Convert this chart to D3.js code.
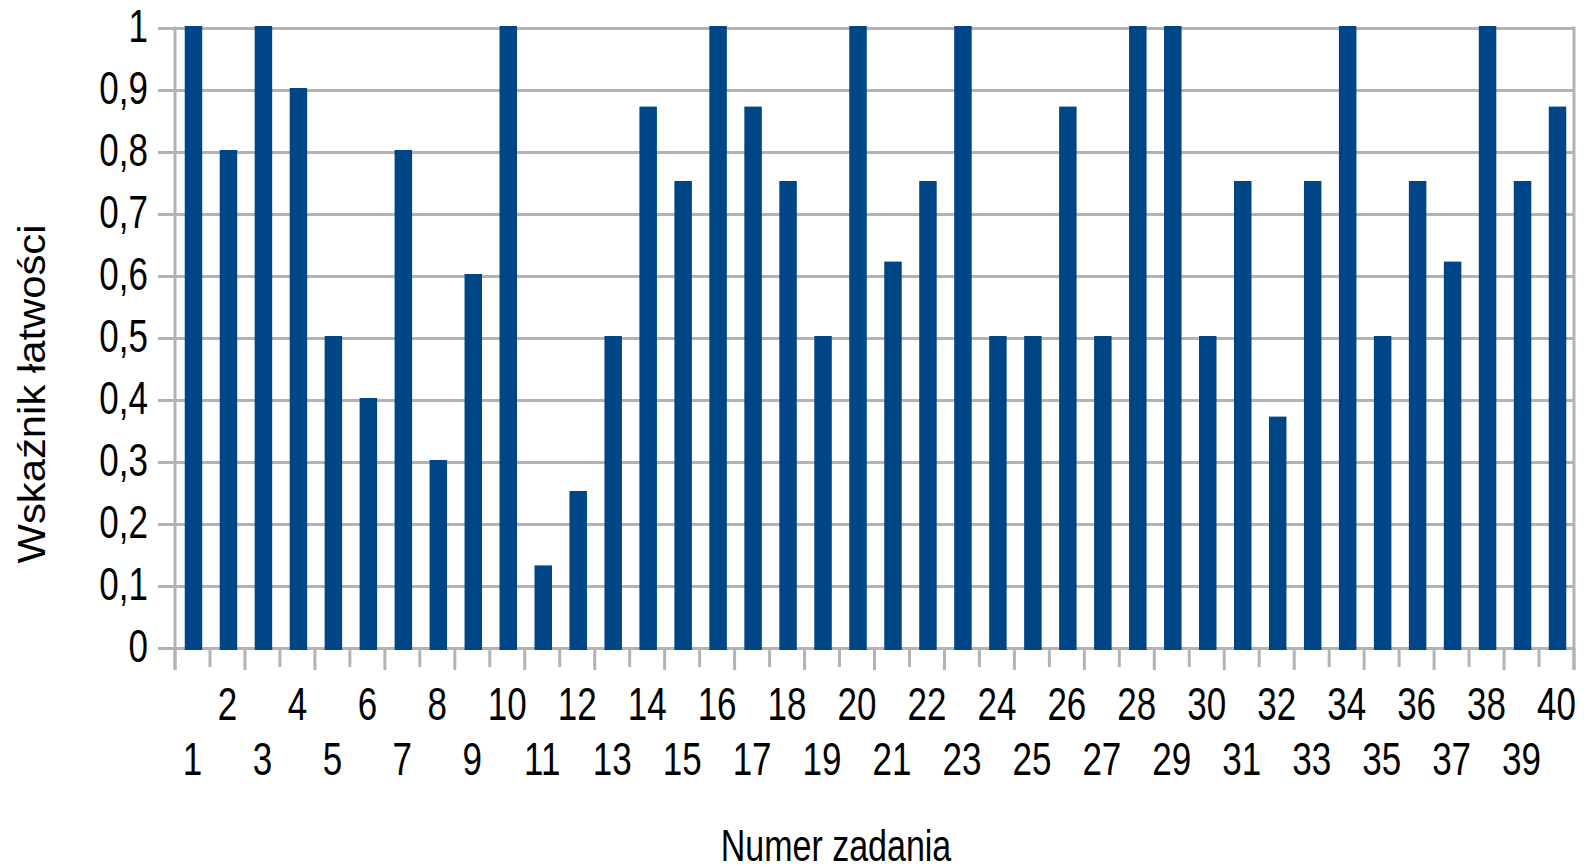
<!DOCTYPE html>
<html>
<head>
<meta charset="utf-8">
<style>
  body { margin: 0; background: #fff; }
  #chart text { font-family: 'Liberation Sans', Arial, sans-serif; fill: #000; }
</style>
</head>
<body>
<div id="chart"></div>
<script src="https://d3js.org/d3.v7.min.js"></script>
<script>
  // numer zadania 1..40
  var tasks = d3.range(1, 41);
  // wskaznik latwosci
  var values = [1, 0.8, 1, 0.9, 0.5, 0.4, 0.8, 0.3, 0.6, 1,
    0.13, 0.25, 0.5, 0.87, 0.75, 1, 0.87, 0.75, 0.5, 1,
    0.62, 0.75, 1, 0.5, 0.5, 0.87, 0.5, 1, 1, 0.5,
    0.75, 0.37, 0.75, 1, 0.5, 0.75, 0.62, 1, 0.75, 0.87];
  var yTicks = [0, 0.1, 0.2, 0.3, 0.4, 0.5, 0.6, 0.7, 0.8, 0.9, 1];
  var xTitle = "Numer zadania";
  var yTitle = "Wskaźnik łatwości";

  var width = 1589, height = 868;
  var plotL = 175, plotR = 1574, plotT = 28, plotB = 648;
  var grey = "#b3b3b3";

  var svg = d3.select("#chart").append("svg")
    .attr("width", width).attr("height", height);

  var x = d3.scaleBand().domain(tasks).range([plotL, plotR])
    .paddingInner(0.5).paddingOuter(0.25);
  var edge = d3.scaleLinear().domain([0, tasks.length]).range([plotL, plotR]);
  var y = d3.scaleLinear().domain([0, 1]).range([plotB, plotT]);

  var pl = d3.formatLocale({decimal: ",", thousands: " ", grouping: [3], currency: ["", " zł"]});
  var fmt = pl.format(".1~f");

  // gridlines + y labels
  var yAxis = svg.append("g")
    .attr("transform", "translate(" + plotL + ",0)")
    .call(d3.axisLeft(y).tickValues(yTicks).tickSize(17).tickFormat(fmt));
  yAxis.select(".domain").remove();
  yAxis.selectAll(".tick line").attr("stroke", grey).attr("stroke-width", 3)
    .attr("x1", 0).attr("x2", -17);
  yAxis.selectAll(".tick").append("line")
    .attr("x1", 0).attr("x2", plotR - plotL)
    .attr("stroke", grey).attr("stroke-width", 3);
  yAxis.selectAll(".tick text")
    .attr("x", null).attr("dy", null)
    .attr("font-size", 35)
    .attr("fill", "#000")
    .attr("transform", "translate(-27,-2) scale(1,1.3) translate(0,12)");

  // axis frame
  svg.append("line").attr("x1", plotL).attr("x2", plotL).attr("y1", plotT - 1.5).attr("y2", 670)
    .attr("stroke", grey).attr("stroke-width", 3);
  svg.append("line").attr("x1", plotR).attr("x2", plotR).attr("y1", plotT - 1.5).attr("y2", 670)
    .attr("stroke", grey).attr("stroke-width", 3);

  // ticks on band edges
  svg.append("g").selectAll("line")
    .data(d3.range(0, tasks.length + 1))
    .join("line")
    .attr("x1", function(d) { return edge(d); })
    .attr("x2", function(d) { return edge(d); })
    .attr("y1", plotB)
    .attr("y2", function(d) { return d % 2 === 0 ? 670 : 667; })
    .attr("stroke", grey).attr("stroke-width", 3);

  // bars
  svg.append("g").selectAll("rect")
    .data(values)
    .join("rect")
    .attr("x", function(d, i) { return x(tasks[i]) + 1; })
    .attr("width", x.bandwidth())
    .attr("y", function(d) { return y(d) - 2; })
    .attr("height", function(d) { return plotB - y(d) + 4; })
    .attr("fill", "#004586");

  // x labels, staggered in two rows
  svg.append("g").selectAll("text")
    .data(tasks)
    .join("text")
    .attr("text-anchor", "middle")
    .attr("font-size", 35)
    .attr("transform", function(d) {
      var by = d % 2 === 0 ? 720 : 775;
      return "translate(" + (x(d) + x.bandwidth() / 2) + "," + by + ") scale(1,1.3)";
    })
    .text(function(d) { return d; });

  // titles
  svg.append("text")
    .attr("text-anchor", "middle")
    .attr("font-size", 34)
    .attr("transform", "translate(836,861) scale(1,1.3)")
    .text(xTitle);

  svg.append("text")
    .attr("text-anchor", "middle")
    .attr("font-size", 38)
    .attr("transform", "translate(45,394) rotate(-90) scale(1.1,1)")
    .text(yTitle);
</script>
</body>
</html>
